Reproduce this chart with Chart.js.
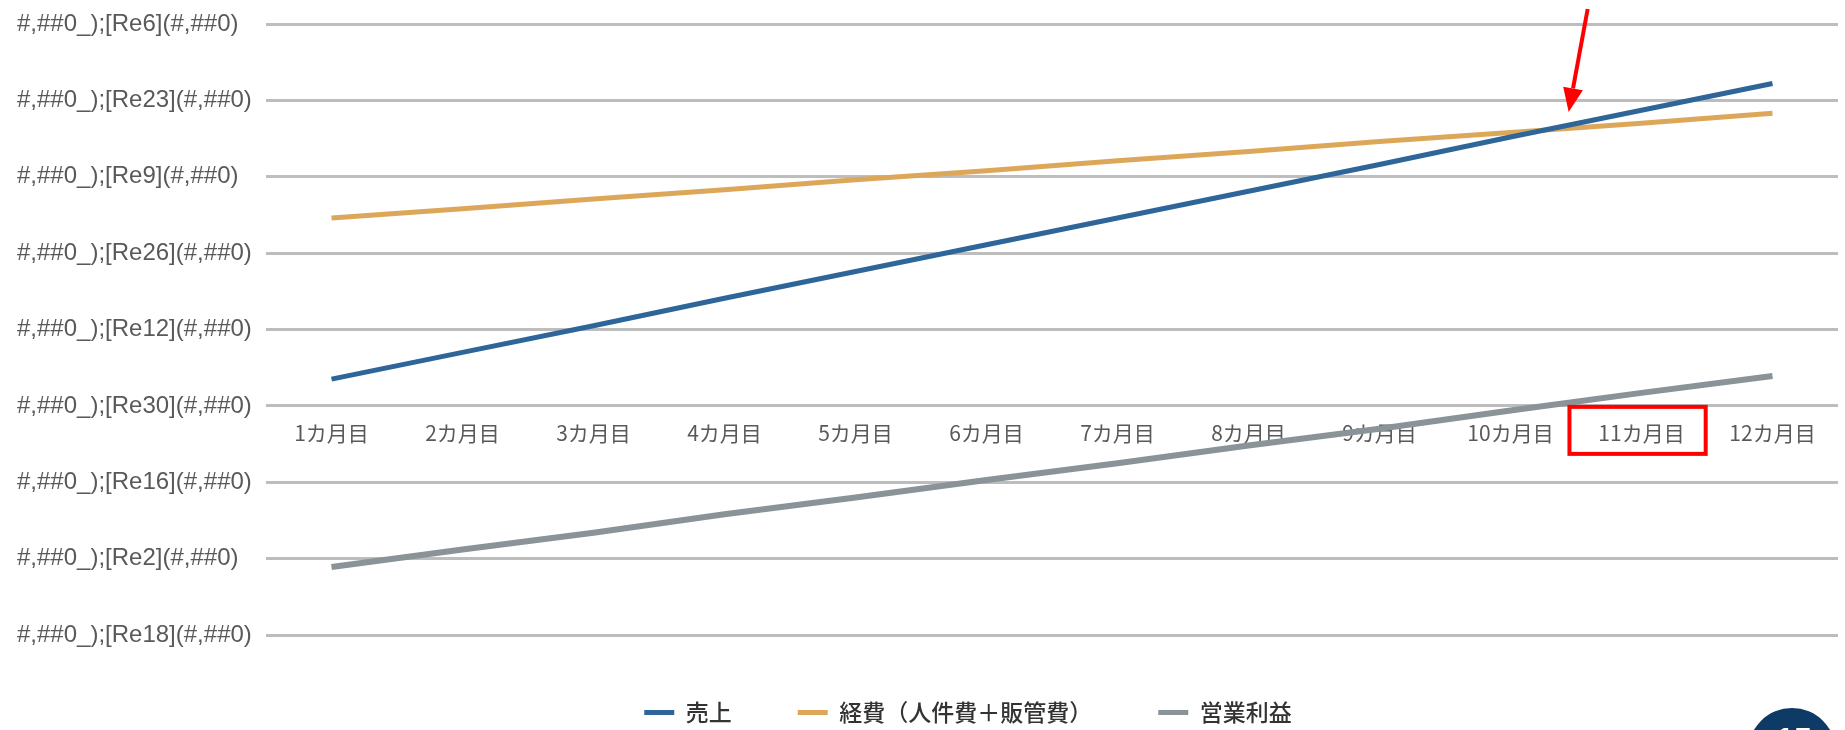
<!DOCTYPE html>
<html lang="ja">
<head>
<meta charset="utf-8">
<title>売上・経費・営業利益</title>
<script src="https://cdn.jsdelivr.net/npm/chart.js@4.4.0/dist/chart.umd.min.js"></script>
<style>
    html, body { margin: 0; padding: 0; background: #ffffff; overflow: hidden; }
    #wrap { width: 1919px; height: 730px; }
</style>
</head>
<body>
<div id="wrap"><canvas id="myChart" width="1919" height="730"></canvas></div>
<script>
var months = ['1カ月目', '2カ月目', '3カ月目', '4カ月目', '5カ月目', '6カ月目', '7カ月目', '8カ月目', '9カ月目', '10カ月目', '11カ月目', '12カ月目'];
var uriage = [3.5, 7.0, 10.5, 14.1, 17.6, 21.1, 24.6, 28.1, 31.6, 35.2, 38.7, 42.2];
var keihi = [24.6, 25.8, 27.1, 28.3, 29.6, 30.8, 32.1, 33.3, 34.6, 35.8, 37.0, 38.3];
var eigyoRieki = [-21.1, -18.8, -16.6, -14.2, -12.0, -9.7, -7.5, -5.2, -3.0, -0.6, 1.7, 3.9];

var yTickValues = [50, 40, 30, 20, 10, 0, -10, -20, -30];
var yTickLabels = [
    '#,##0_);[Re6](#,##0)',
    '#,##0_);[Re23](#,##0)',
    '#,##0_);[Re9](#,##0)',
    '#,##0_);[Re26](#,##0)',
    '#,##0_);[Re12](#,##0)',
    '#,##0_);[Re30](#,##0)',
    '#,##0_);[Re16](#,##0)',
    '#,##0_);[Re2](#,##0)',
    '#,##0_);[Re18](#,##0)'
];

var highlightIndex = 10;   // 11カ月目
var pageNumber = '15';

document.addEventListener('DOMContentLoaded', function() {
    const ctx = document.getElementById('myChart').getContext('2d');

    // red box, red arrow to the crossing point, page badge
    const overlay = {
        id: 'overlay',
        afterDraw(chart) {
            const c = chart.ctx;
            const x = chart.scales.x;
            const y = chart.scales.y;
            const step = x.getPixelForValue(1) - x.getPixelForValue(0);

            c.save();
            c.strokeStyle = '#ff0000';
            c.lineWidth = 4;
            const cx = x.getPixelForValue(highlightIndex);
            c.strokeRect(cx - step * 0.55, y.getPixelForValue(0) + 1, step * 1.04, 47);

            // where 売上 passes 経費
            let px = null, py = null;
            for (let i = 0; i < uriage.length - 1; i++) {
                const d0 = uriage[i] - keihi[i];
                const d1 = uriage[i + 1] - keihi[i + 1];
                if (d0 < 0 && d1 >= 0) {
                    const t = -d0 / (d1 - d0);
                    px = x.getPixelForValue(i) + t * step;
                    py = y.getPixelForValue(keihi[i] + t * (keihi[i + 1] - keihi[i]));
                }
            }
            if (px !== null) {
                const tipX = px + 24, tipY = py - 18;
                const tailX = tipX + 19, tailY = 9;
                const len = Math.hypot(tipX - tailX, tipY - tailY);
                const ux = (tipX - tailX) / len, uy = (tipY - tailY) / len;
                const head = 24, half = 10;
                const bx = tipX - ux * head, by = tipY - uy * head;
                c.beginPath();
                c.moveTo(tailX, tailY);
                c.lineTo(bx, by);
                c.stroke();
                c.fillStyle = '#ff0000';
                c.beginPath();
                c.moveTo(tipX, tipY);
                c.lineTo(bx - uy * half, by + ux * half);
                c.lineTo(bx + uy * half, by - ux * half);
                c.closePath();
                c.fill();
            }

            c.fillStyle = '#0d3b66';
            c.beginPath();
            c.arc(1792, 752, 44, 0, Math.PI * 2);
            c.fill();
            c.fillStyle = '#ffffff';
            c.font = 'bold 32px "Liberation Sans"';
            c.textAlign = 'center';
            c.textBaseline = 'alphabetic';
            c.fillText(pageNumber, 1794, 750);
            c.restore();
        }
    };

    const myChart = new Chart(ctx, {
        type: 'line',
        data: {
            labels: months,
            datasets: [
                { label: '売上', data: uriage, borderColor: '#2e6699', backgroundColor: '#2e6699', borderWidth: 5 },
                { label: '経費（人件費＋販管費）', data: keihi, borderColor: '#dda75a', backgroundColor: '#dda75a', borderWidth: 5 },
                { label: '営業利益', data: eigyoRieki, borderColor: '#8a9398', backgroundColor: '#8a9398', borderWidth: 6 }
            ]
        },
        options: {
            responsive: false,
            animation: false,
            elements: { point: { radius: 0 }, line: { tension: 0, borderCapStyle: 'butt' } },
            layout: { padding: { left: 17, top: 24, right: 0, bottom: 0 } },
            scales: {
                x: {
                    type: 'category',
                    position: { y: 0 },
                    offset: true,
                    grid: { display: false, drawTicks: false },
                    border: { display: false },
                    ticks: {
                        autoSkip: false,
                        maxRotation: 0,
                        padding: 15,
                        color: '#595959',
                        font: { family: 'Noto Sans CJK JP', size: 21 }
                    }
                },
                y: {
                    position: 'left',
                    min: -30,
                    max: 50,
                    afterFit: function(scale) { scale.width = 249; },
                    afterBuildTicks: function(scale) {
                        scale.ticks = yTickValues.map(function(v) { return { value: v }; });
                    },
                    grid: { color: '#bdbdbd', lineWidth: 3, drawTicks: false },
                    border: { display: false },
                    ticks: {
                        crossAlign: 'far',
                        padding: 0,
                        color: '#595959',
                        font: { family: 'Liberation Sans', size: 24 },
                        callback: function(value) {
                            const i = yTickValues.indexOf(value);
                            return i >= 0 ? yTickLabels[i] : '';
                        }
                    }
                },
                yRight: {
                    type: 'linear',
                    position: 'right',
                    grid: { display: false },
                    border: { display: false },
                    ticks: { display: false },
                    afterFit: function(scale) { scale.width = 81; }
                }
            },
            plugins: {
                tooltip: { enabled: false },
                legend: {
                    position: 'bottom',
                    maxHeight: 95,
                    labels: {
                        boxWidth: 30,
                        boxHeight: 5,
                        padding: 66,
                        color: '#333333',
                        font: { family: 'Noto Sans CJK JP', size: 23, weight: '500' },
                        generateLabels: function(chart) {
                            return Chart.defaults.plugins.legend.labels.generateLabels(chart).map(function(item) {
                                item.lineWidth = 0;
                                item.fillStyle = item.strokeStyle;
                                return item;
                            });
                        }
                    }
                }
            }
        },
        plugins: [overlay]
    });
});
</script>
</body>
</html>
